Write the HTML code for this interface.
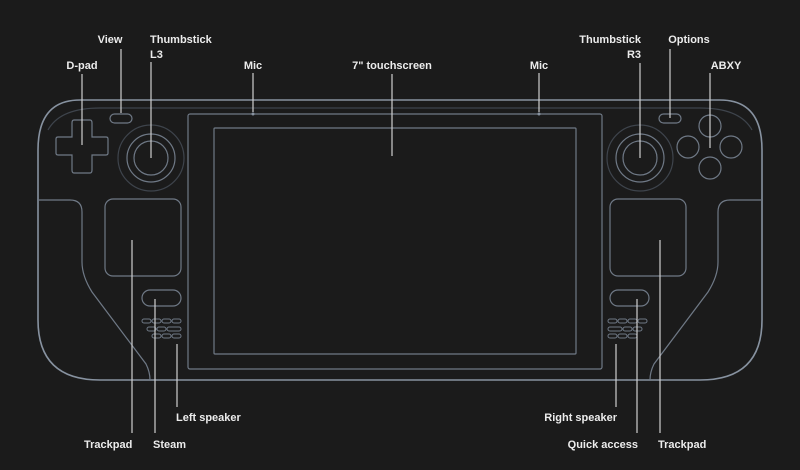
<!DOCTYPE html>
<html><head><meta charset="utf-8"><style>
html,body{margin:0;padding:0;background:#1b1b1b;}
svg{display:block}
text{font-family:"Liberation Sans",sans-serif;font-size:11px;font-weight:bold;fill:#ececec}
</style></head><body>
<svg width="800" height="470" viewBox="0 0 800 470" xmlns="http://www.w3.org/2000/svg">
<rect width="800" height="470" fill="#1b1b1b"/>
<g fill="none" stroke="#6f7986" stroke-width="1.2">
<!-- body -->
<path d="M80 100 H720 Q762 100 762 150 V320 Q762 380 700 380 H100 Q38 380 38 320 V150 Q38 100 80 100 Z" stroke="#8792a0" stroke-width="1.6"/>
<path d="M48 130 Q60 108 100 108 H700 Q740 108 752 130" stroke="#3e444c"/>
<!-- grips -->
<path d="M38 200 H70 Q82 200 82 212 V262 Q82 276 92 292 L146 364 Q150 372 150 380"/>
<path d="M762 200 H730 Q718 200 718 212 V262 Q718 276 708 292 L654 364 Q650 372 650 380"/>
<!-- screen -->
<rect x="188" y="114" width="414" height="255" rx="2"/>
<rect x="214" y="128" width="362" height="226" rx="1"/>
<!-- dpad -->
<path d="M74 120 H90 Q92 120 92 123 V137 H106 Q108 137 108 139 V153 Q108 155 106 155 H92 V170 Q92 173 90 173 H74 Q72 173 72 170 V155 H58 Q56 155 56 153 V139 Q56 137 58 137 H72 V123 Q72 120 74 120 Z"/>
<rect x="110" y="114" width="22" height="9" rx="4.5"/>
<rect x="659" y="114" width="22" height="9" rx="4.5"/>
<!-- sticks -->
<circle cx="151" cy="158" r="33" stroke="#3e444c"/>
<circle cx="151" cy="158" r="24"/>
<circle cx="151" cy="158" r="17"/>
<circle cx="640" cy="158" r="33" stroke="#3e444c"/>
<circle cx="640" cy="158" r="24"/>
<circle cx="640" cy="158" r="17"/>
<!-- abxy -->
<circle cx="710" cy="126" r="11"/>
<circle cx="688" cy="147" r="11"/>
<circle cx="731" cy="147" r="11"/>
<circle cx="710" cy="168" r="11"/>
<!-- trackpads -->
<rect x="105" y="199" width="76" height="77" rx="8"/>
<rect x="610" y="199" width="76" height="77" rx="8"/>
<!-- buttons -->
<rect x="142" y="290" width="39" height="16" rx="8"/>
<rect x="610" y="290" width="39" height="16" rx="8"/>
<!-- speakers -->
<g stroke-width="1">
<rect x="142" y="319" width="9" height="4" rx="2"/><rect x="152" y="319" width="9" height="4" rx="2"/><rect x="162" y="319" width="9" height="4" rx="2"/><rect x="172" y="319" width="9" height="4" rx="2"/>
<rect x="147" y="327" width="9" height="4" rx="2"/><rect x="157" y="327" width="9" height="4" rx="2"/><rect x="167" y="327" width="14" height="4" rx="2"/>
<rect x="152" y="334" width="9" height="4" rx="2"/><rect x="162" y="334" width="9" height="4" rx="2"/><rect x="172" y="334" width="9" height="4" rx="2"/>
<rect x="608" y="319" width="9" height="4" rx="2"/><rect x="618" y="319" width="9" height="4" rx="2"/><rect x="628" y="319" width="9" height="4" rx="2"/><rect x="638" y="319" width="9" height="4" rx="2"/>
<rect x="608" y="327" width="14" height="4" rx="2"/><rect x="623" y="327" width="9" height="4" rx="2"/><rect x="633" y="327" width="9" height="4" rx="2"/>
<rect x="608" y="334" width="9" height="4" rx="2"/><rect x="618" y="334" width="9" height="4" rx="2"/><rect x="628" y="334" width="9" height="4" rx="2"/>
</g>
</g>
<!-- mic dots -->
<circle cx="253" cy="114" r="1.5" fill="#8792a0"/>
<circle cx="539" cy="114" r="1.5" fill="#8792a0"/>
<!-- leaders -->
<g stroke="#cfcfcf" stroke-width="1.2">
<line x1="82" y1="74" x2="82" y2="145"/>
<line x1="121" y1="49" x2="121" y2="113"/>
<line x1="151" y1="62" x2="151" y2="158"/>
<line x1="253" y1="73" x2="253" y2="112"/>
<line x1="392" y1="74" x2="392" y2="156"/>
<line x1="539" y1="73" x2="539" y2="112"/>
<line x1="640" y1="63" x2="640" y2="158"/>
<line x1="670" y1="49" x2="670" y2="118"/>
<line x1="710" y1="73" x2="710" y2="148"/>
<line x1="132" y1="240" x2="132" y2="433"/>
<line x1="155" y1="299" x2="155" y2="433"/>
<line x1="177" y1="344" x2="177" y2="407"/>
<line x1="616" y1="344" x2="616" y2="407"/>
<line x1="637" y1="299" x2="637" y2="433"/>
<line x1="660" y1="240" x2="660" y2="433"/>
</g>
<!-- labels -->
<text x="82" y="69" text-anchor="middle">D-pad</text>
<text x="110" y="43" text-anchor="middle">View</text>
<text x="150" y="43">Thumbstick</text>
<text x="150" y="58">L3</text>
<text x="253" y="69" text-anchor="middle">Mic</text>
<text x="392" y="69" text-anchor="middle">7" touchscreen</text>
<text x="539" y="69" text-anchor="middle">Mic</text>
<text x="641" y="43" text-anchor="end">Thumbstick</text>
<text x="641" y="58" text-anchor="end">R3</text>
<text x="689" y="43" text-anchor="middle">Options</text>
<text x="726" y="69" text-anchor="middle">ABXY</text>
<text x="176" y="421">Left speaker</text>
<text x="617" y="421" text-anchor="end">Right speaker</text>
<text x="84" y="448">Trackpad</text>
<text x="153" y="448">Steam</text>
<text x="638" y="448" text-anchor="end">Quick access</text>
<text x="658" y="448">Trackpad</text>
</svg>
</body></html>
